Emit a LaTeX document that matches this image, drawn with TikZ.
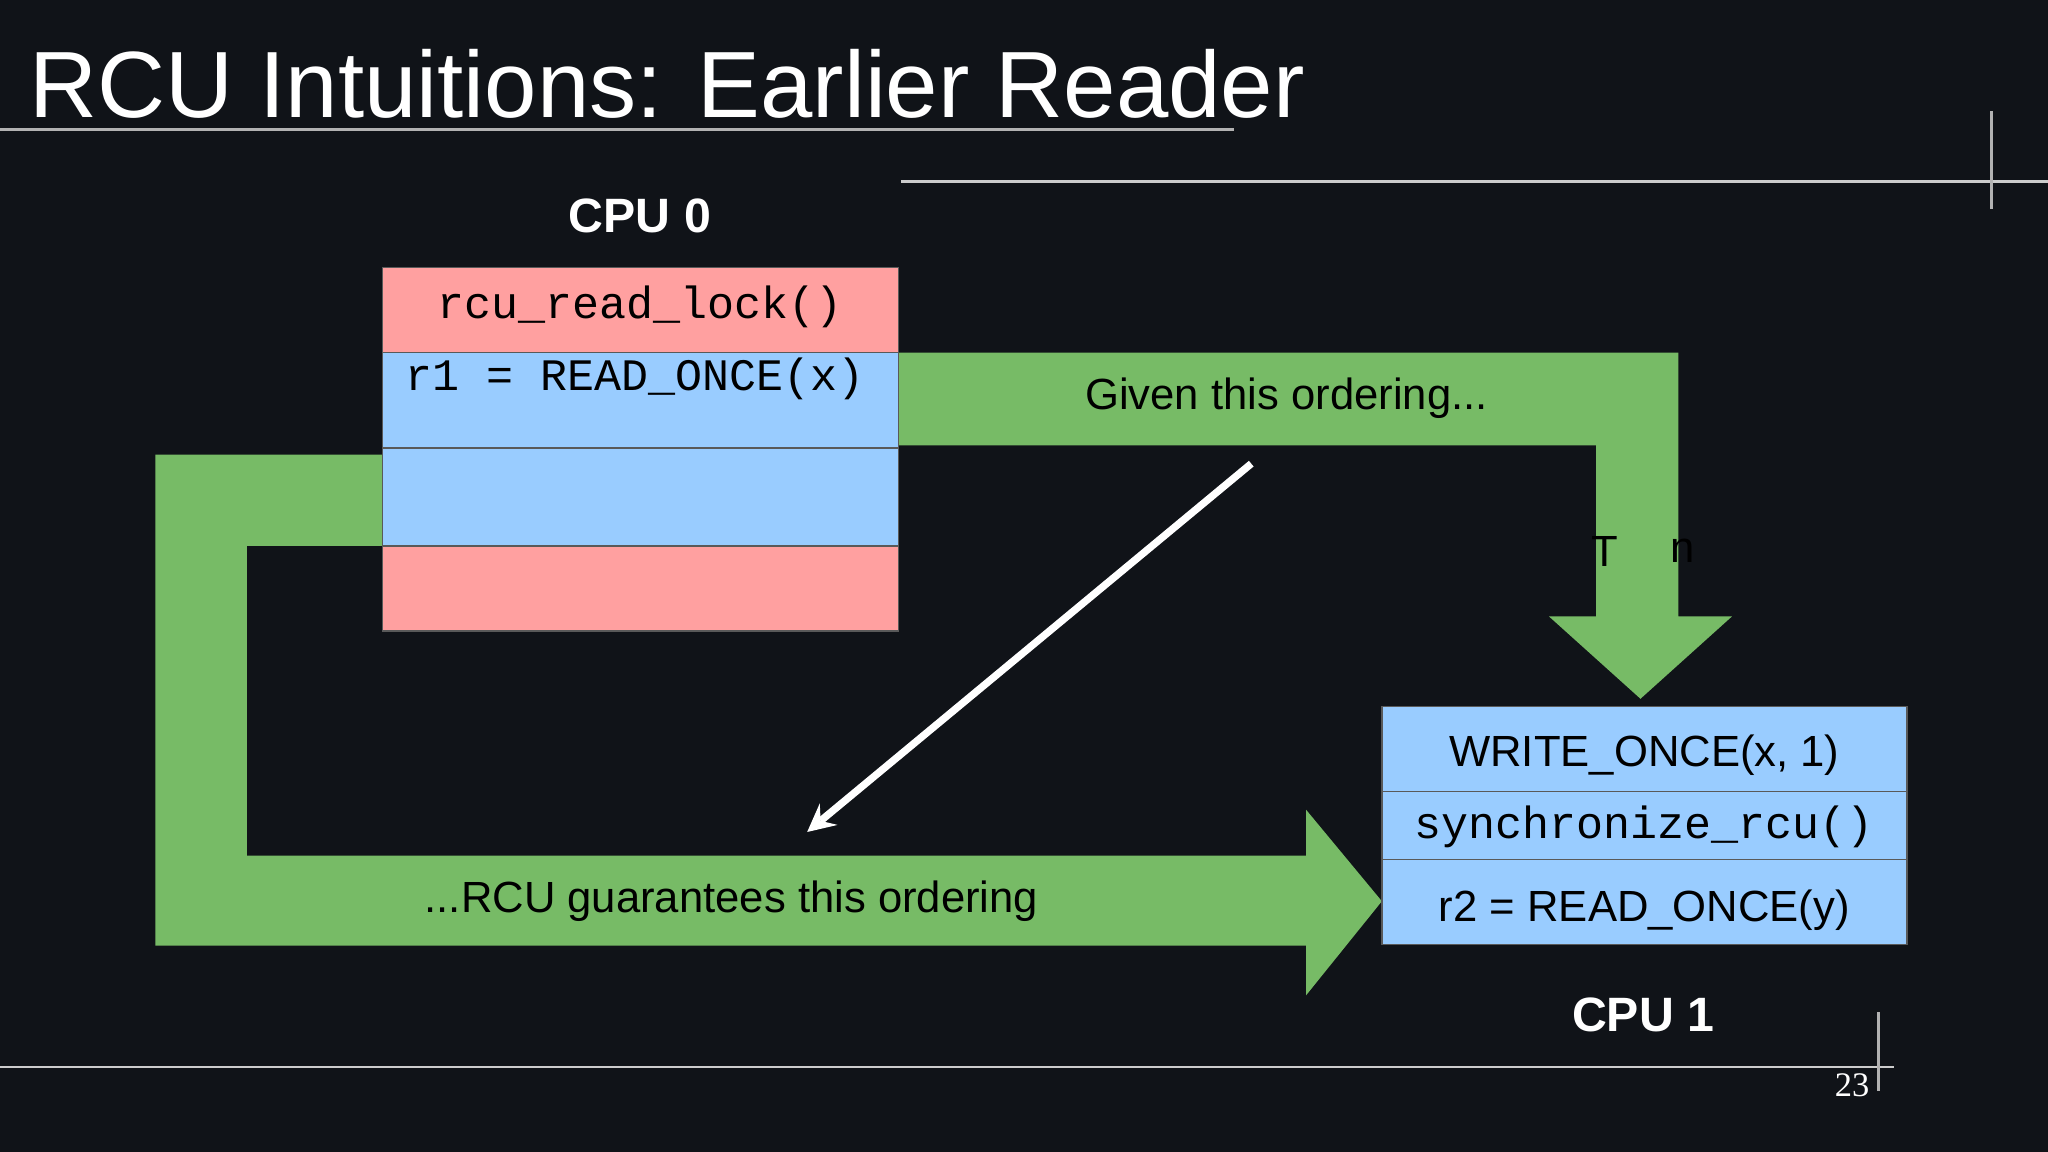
\documentclass[tikz,border=0pt]{standalone}
\usepackage{fontspec}
\setmainfont{Liberation Sans}
\newfontfamily\monof{Liberation Mono}
\newfontfamily\serf{Liberation Serif}
\definecolor{bgc}{RGB}{16,19,24}
\definecolor{pinkk}{RGB}{255,160,160}
\definecolor{bluek}{RGB}{153,204,255}
\definecolor{greenk}{RGB}{119,187,102}
\begin{document}
\begin{tikzpicture}[x=0.01cm,y=-0.01cm,
  pinkc/.style={fill=pinkk,draw=gray!70!black,line width=0.3pt},
  bluec/.style={fill=bluek,draw=gray!70!black,line width=0.3pt},
  grn/.style={fill=greenk,draw=none},
  lbl/.style={font=\fontsize{9.5}{11}\selectfont,text=black},
  mono/.style={font=\monof\fontsize{9.8}{11}\selectfont,text=black},
  cpu/.style={font=\bfseries\fontsize{10.5}{12}\selectfont,text=white},
  faint/.style={draw=gray!60,line width=0.6pt}]
\fill[bgc] (0,0) rectangle (1568,882);
\useasboundingbox (0,0) rectangle (1568,882);
\node[anchor=base west,text=white,font=\fontsize{20.5}{24}\selectfont,inner sep=0] (title) at (22,90) {RCU Intuitions: Earlier Reader};
\draw[faint] (0,99) -- (945,99);
\draw[faint,draw=gray!40] (690,139) -- (1568,139);
\draw[faint] (1525,85) -- (1525,160);
\draw[faint,draw=gray!40] (0,817) -- (1450,817);
\draw[faint] (1438,775) -- (1438,835);
\node[text=white,font=\serf\fontsize{7.5}{9}\selectfont] (pg) at (1418,831) {23};
% green arrows
\fill[grn] (688,270) -- (1285,270) -- (1285,472) -- (1326,472) -- (1256,535) -- (1186,472) -- (1222,472) -- (1222,341) -- (688,341) -- cycle;
\fill[grn] (293,348) -- (119,348) -- (119,724) -- (1000,724) -- (1000,762) -- (1058,690) -- (1000,620) -- (1000,655) -- (189,655) -- (189,418) -- (293,418) -- cycle;
\node[lbl] (g1) at (985,305) {Given this ordering...};
\node[lbl] (g2) at (560,690) {...RCU guarantees this ordering};
\node[lbl] (t1) at (1229,422) {T};
\node[lbl] (t2) at (1288,422) {n};
% CPU0
\node[cpu] (c0) at (490,165) {CPU 0};
\draw[pinkc] (293,205) rectangle (688,270);
\draw[bluec] (293,270) rectangle (688,343);
\draw[bluec] (293,343) rectangle (688,418);
\draw[pinkc] (293,418) rectangle (688,483);
\node[mono] (a1) at (490,235) {rcu\_read\_lock()};
\node[mono] (a2) at (486,290) {r1 = READ\_ONCE(x)};
% CPU1
\draw[bluec] (1058,541) rectangle (1460,606);
\draw[bluec] (1058,606) rectangle (1460,658);
\draw[bluec] (1058,658) rectangle (1460,723);
\node[lbl] (b1) at (1259,578) {WRITE\_ONCE(x, 1)};
\node[mono] (b2) at (1259,633) {synchronize\_rcu()};
\node[lbl] (b3) at (1259,697) {r2 = READ\_ONCE(y)};
\node[cpu] (c1) at (1258,777) {CPU 1};
% white arrow
\coordinate (ws) at (958,355);
\coordinate (we) at (618,637);
\draw[white,line width=1.6pt,-stealth] (ws) -- (we);
\end{tikzpicture}
\end{document}
